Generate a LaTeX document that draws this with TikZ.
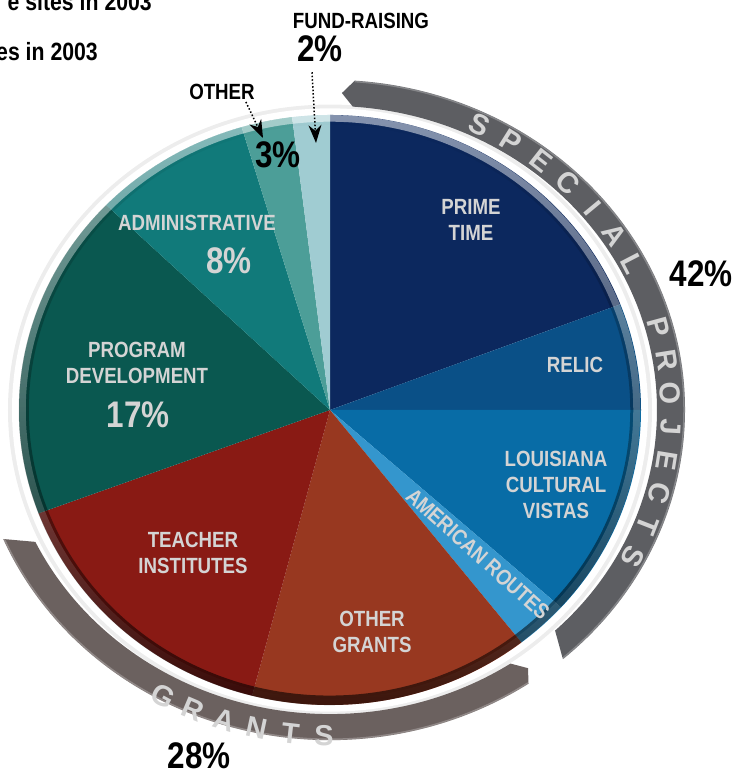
\documentclass[tikz,border=0pt]{standalone}
\usepackage{fontspec}
\newfontfamily\cond{Liberation Sans}[FakeStretch=0.85, BoldFont={Liberation Sans Bold}]
\newfontfamily\ringf{Liberation Sans}[BoldFont={Liberation Sans Bold}]
\usetikzlibrary{arrows.meta,fadings}
\definecolor{prime}{RGB}{12,40,94}
\definecolor{relic}{RGB}{10,80,135}
\definecolor{lcv}{RGB}{8,108,166}
\definecolor{amroutes}{RGB}{52,150,205}
\definecolor{othgrants}{RGB}{152,56,32}
\definecolor{teacher}{RGB}{137,26,20}
\definecolor{progdev}{RGB}{10,88,80}
\definecolor{admin}{RGB}{17,122,122}
\definecolor{othslice}{RGB}{76,158,152}
\definecolor{fund}{RGB}{160,204,210}
\definecolor{spband}{RGB}{93,94,98}
\definecolor{grband}{RGB}{107,97,95}
\definecolor{lbltxt}{RGB}{212,212,212}
\definecolor{ringtxt}{RGB}{212,212,212}
\tikzfading[name=rimdark, top color=transparent!100, middle color=transparent!72, bottom color=transparent!40]
\tikzfading[name=rimlight, top color=transparent!50, middle color=transparent!100, bottom color=transparent!100]
\begin{document}
\begin{tikzpicture}[x=1pt, y=1pt, line join=round,
	lbl/.style={text=lbltxt, font=\cond\bfseries\fontsize{22}{26}\selectfont, align=center, inner sep=0pt},
	pct/.style={font=\cond\bfseries\fontsize{37}{37}\selectfont, inner sep=0pt},
	note/.style={font=\cond\bfseries\fontsize{22}{26}\selectfont, inner sep=0pt},
	ring/.style={text=ringtxt, font=\ringf\bfseries\fontsize{29}{29}\selectfont, inner sep=0pt},
	dotarr/.style={dotted, line width=1.5pt, -{Stealth[length=18pt,width=13pt]}}]
	\useasboundingbox (-330,-363) rectangle (407,410);
	\begin{scope}[yscale=.9486]
		\def\R{311} % bán kính
		\fill[gray!14] (0,0) circle (322);
		\fill[white] (0,0) circle (318);
		\fill[prime] (0,0) -- (21:\R) arc[start angle=21, end angle=90, radius=\R] -- cycle;
		\fill[relic] (0,0) -- (0:\R) arc[start angle=0, end angle=21, radius=\R] -- cycle;
		\fill[lcv] (0,0) -- (-42:\R) arc[start angle=-42, end angle=0, radius=\R] -- cycle;
		\fill[amroutes] (0,0) -- (-52:\R) arc[start angle=-52, end angle=-42, radius=\R] -- cycle;
		\fill[othgrants] (0,0) -- (-104.5:\R) arc[start angle=-104.5, end angle=-52, radius=\R] -- cycle;
		\fill[teacher] (0,0) -- (-159.5:\R) arc[start angle=-159.5, end angle=-104.5, radius=\R] -- cycle;
		\fill[progdev] (0,0) -- (136:\R) arc[start angle=136, end angle=200.5, radius=\R] -- cycle;
		\fill[admin] (0,0) -- (106.5:\R) arc[start angle=106.5, end angle=136, radius=\R] -- cycle;
		\fill[othslice] (0,0) -- (97:\R) arc[start angle=97, end angle=106.5, radius=\R] -- cycle;
		\fill[fund] (0,0) -- (90:\R) arc[start angle=90, end angle=97, radius=\R] -- cycle;
		\fill[black, even odd rule, path fading=rimdark] (0,0) circle (\R) circle (301); % viền tối
		\fill[white, even odd rule, path fading=rimlight] (0,0) circle (\R) circle (304); % viền sáng
	\end{scope}
	\begin{scope}[yscale=.93]
		\fill[spband] (88:341) -- (86:355) arc[start angle=86, end angle=-49, radius=355] -- (-46.5:327) arc[start angle=-46.5, end angle=86, radius=327] -- cycle;
		\fill[grband] (-157:355) arc[start angle=-157, end angle=-56, radius=355] -- (-54.5:341) -- (-56.5:327) arc[start angle=-56.5, end angle=-154.3, radius=327] -- cycle;
		\draw[white, opacity=.25, line width=1.5pt] (86:354) arc[start angle=86, end angle=-49, radius=354];
		\draw[white, opacity=.25, line width=1.5pt] (-157:354) arc[start angle=-157, end angle=-56, radius=354];
		\path 
		(64:341) node[ring,rotate=-26] (sp1) {S} (57.9:341) node[ring,rotate=-32.1] (sp2) {P}
		(51.8:341) node[ring,rotate=-38.2] (sp3) {E} (45.7:341) node[ring,rotate=-44.3] (sp4) {C}
		(39.6:341) node[ring,rotate=-50.4] (sp5) {I} (33.5:341) node[ring,rotate=-56.5] (sp6) {A}
		(27.4:341) node[ring,rotate=-62.6] (sp7) {L}
		(15.2:341) node[ring,rotate=-74.8] (pj1) {P} (9.1:341) node[ring,rotate=-80.9] (pj2) {R}
		(3:341) node[ring,rotate=-87] (pj3) {O} (-3.1:341) node[ring,rotate=-93.1] (pj4) {J}
		(-9.2:341) node[ring,rotate=-99.2] (pj5) {E} (-15.3:341) node[ring,rotate=-105.3] (pj6) {C}
		(-21.4:341) node[ring,rotate=-111.4] (pj7) {T} (-27.5:341) node[ring,rotate=-117.5] (pj8) {S}
		(-118.5:350) node[ring,rotate=-28.5] (gr1) {G} (-113:350) node[ring,rotate=-23] (gr2) {R}
		(-107.5:350) node[ring,rotate=-17.5] (gr3) {A} (-102:350) node[ring,rotate=-12] (gr4) {N}
		(-96.5:350) node[ring,rotate=-6.5] (gr5) {T} (-91:350) node[ring,rotate=-1] (gr6) {S};
	\end{scope}
	\path 
	(141,190) node[lbl] (primetime) {PRIME\\TIME}
	(245,45) node[lbl] (relic) {RELIC}
	(226,-75) node[lbl] (lcv) {LOUISIANA\\CULTURAL\\VISTAS}
	(148,-144) node[lbl, font=\cond\bfseries\fontsize{22}{24}\selectfont, rotate=-42] (amroutes) {AMERICAN ROUTES}
	(42,-222) node[lbl] (othgrants) {OTHER\\GRANTS}
	(-137,-143) node[lbl] (teacher) {TEACHER\\INSTITUTES}
	(-193,47) node[lbl] (progdev) {PROGRAM\\DEVELOPMENT}
	(-192,-5) node[pct, text=lbltxt] (progpct) {17\%}
	(-133,187) node[lbl] (admin) {ADMINISTRATIVE}
	(-101,149) node[pct, text=lbltxt] (adminpct) {8\%}
	(-52,255) node[pct] (othpct) {3\%}
	(-108,318) node[note] (othlbl) {OTHER}
	(31,389) node[note] (fundlbl) {FUND-RAISING}
	(-10,361) node[pct] (fundpct) {2\%}
	(371,136) node[pct] (sppct) {42\%}
	(-131,-346) node[pct] (grpct) {28\%}
	(-178,399) node[note, anchor=base east, font=\cond\bfseries\fontsize{25}{28}\selectfont] (line1) {e sites in 2003}
	(-232,349) node[note, anchor=base east, font=\cond\bfseries\fontsize{25}{28}\selectfont] (line2) {es in 2003};
	\coordinate (othtip) at (-67,272);
	\coordinate (fundtip) at (-14,267);
	\draw[dotarr] ([shift={(-9,-2)}]othlbl.south east)--(othtip);
	\draw[dotarr] ([shift={(-8,-10)}]fundpct.south)--(fundtip);
\end{tikzpicture}
\end{document}
